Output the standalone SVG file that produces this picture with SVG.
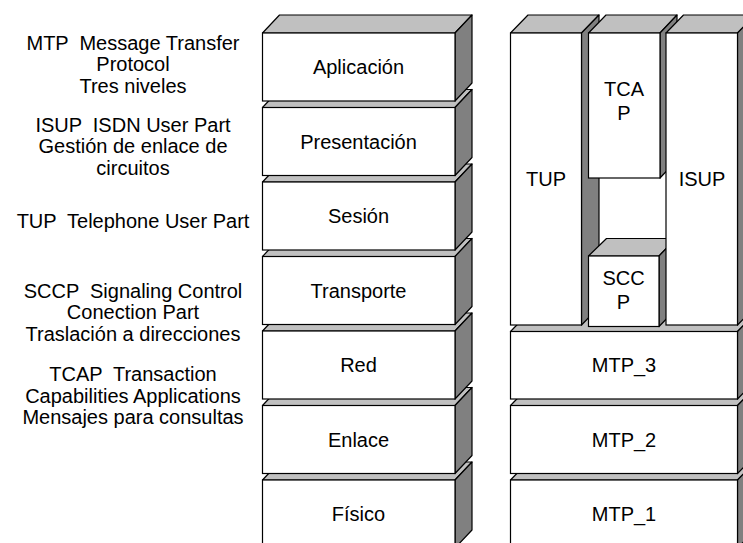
<svg xmlns="http://www.w3.org/2000/svg" width="743" height="543" viewBox="0 0 743 543">
<style>
.top{fill:#C0C0C0;stroke:#000;stroke-width:1.2;stroke-linejoin:round}
.side{fill:#808080;stroke:#000;stroke-width:1.2;stroke-linejoin:round}
.front{fill:#FFFFFF;stroke:#000;stroke-width:1.2}
text{font-family:"Liberation Sans",Arial,sans-serif;font-size:20px;fill:#000;text-anchor:middle;white-space:pre}
</style>
<rect x="0" y="0" width="743" height="543" fill="#FFFFFF"/>
<g id="legend" xml:space="preserve">
<text x="133" y="49.5">MTP  Message Transfer</text>
<text x="133" y="71">Protocol</text>
<text x="133" y="92.5">Tres niveles</text>
<text x="133" y="131.5">ISUP  ISDN User Part</text>
<text x="133" y="153">Gestión de enlace de</text>
<text x="133" y="174.5">circuitos</text>
<text x="133" y="227.5">TUP  Telephone User Part</text>
<text x="133" y="297.5">SCCP  Signaling Control</text>
<text x="133" y="319">Conection Part</text>
<text x="133" y="340.5">Traslación a direcciones</text>
<text x="133" y="381">TCAP  Transaction</text>
<text x="133" y="402.5">Capabilities Applications</text>
<text x="133" y="424">Mensajes para consultas</text>
</g>
<g id="osi">
<g id="fisico">
<polygon class="top" points="262.5,480 279.5,462 472,462 455,480"/>
<polygon class="side" points="455,480 472,462 472,530 455,548"/>
<rect class="front" x="262.5" y="480" width="192.5" height="68"/>
<text x="358.5" y="521">Físico</text>
</g>
<g id="enlace">
<polygon class="top" points="262.5,405.5 279.5,387.5 472,387.5 455,405.5"/>
<polygon class="side" points="455,405.5 472,387.5 472,455.5 455,473.5"/>
<rect class="front" x="262.5" y="405.5" width="192.5" height="68"/>
<text x="358.5" y="446.5">Enlace</text>
</g>
<g id="red">
<polygon class="top" points="262.5,331 279.5,313 472,313 455,331"/>
<polygon class="side" points="455,331 472,313 472,381 455,399"/>
<rect class="front" x="262.5" y="331" width="192.5" height="68"/>
<text x="358.5" y="372">Red</text>
</g>
<g id="transporte">
<polygon class="top" points="262.5,256.5 279.5,238.5 472,238.5 455,256.5"/>
<polygon class="side" points="455,256.5 472,238.5 472,306.5 455,324.5"/>
<rect class="front" x="262.5" y="256.5" width="192.5" height="68"/>
<text x="358.5" y="297.5">Transporte</text>
</g>
<g id="sesion">
<polygon class="top" points="262.5,182 279.5,164 472,164 455,182"/>
<polygon class="side" points="455,182 472,164 472,232 455,250"/>
<rect class="front" x="262.5" y="182" width="192.5" height="68"/>
<text x="358.5" y="223">Sesión</text>
</g>
<g id="presentacion">
<polygon class="top" points="262.5,107.5 279.5,89.5 472,89.5 455,107.5"/>
<polygon class="side" points="455,107.5 472,89.5 472,157.5 455,175.5"/>
<rect class="front" x="262.5" y="107.5" width="192.5" height="68"/>
<text x="358.5" y="148.5">Presentación</text>
</g>
<g id="aplicacion">
<polygon class="top" points="262.5,33 279.5,15 472,15 455,33"/>
<polygon class="side" points="455,33 472,15 472,83 455,101"/>
<rect class="front" x="262.5" y="33" width="192.5" height="68"/>
<text x="358.5" y="74">Aplicación</text>
</g>
</g>
<g id="ss7">
<g id="mtp1">
<polygon class="top" points="510.5,480 528,462 755,462 737.5,480"/>
<polygon class="side" points="737.5,480 755,462 755,530 737.5,548"/>
<rect class="front" x="510.5" y="480" width="227" height="68"/>
<text x="624" y="521">MTP_1</text>
</g>
<g id="mtp2">
<polygon class="top" points="510.5,405.5 528,387.5 755,387.5 737.5,405.5"/>
<polygon class="side" points="737.5,405.5 755,387.5 755,455.5 737.5,473.5"/>
<rect class="front" x="510.5" y="405.5" width="227" height="68"/>
<text x="624" y="446.5">MTP_2</text>
</g>
<g id="mtp3">
<polygon class="top" points="510.5,331.5 528,313.5 755,313.5 737.5,331.5"/>
<polygon class="side" points="737.5,331.5 755,313.5 755,381 737.5,399"/>
<rect class="front" x="510.5" y="331.5" width="227" height="67.5"/>
<text x="624" y="372">MTP_3</text>
</g>
<g id="tup">
<polygon class="top" points="510.5,33 528,15 599,15 581.5,33"/>
<polygon class="side" points="581.5,33 599,15 599,307 581.5,325"/>
<rect class="front" x="510.5" y="33" width="71" height="292"/>
<text x="546" y="186">TUP</text>
</g>
<g id="tcap">
<polygon class="top" points="588.5,33 606,15 677,15 660,33"/>
<polygon class="side" points="660,33 677,15 677,160 660,178"/>
<rect class="front" x="588.5" y="33" width="71.5" height="145"/>
<text x="624" y="95.5">TCA</text>
<text x="624" y="119.5">P</text>
</g>
<g id="sccp">
<polygon class="top" points="588.5,256 606.5,238.5 676,238.5 659,256"/>
<polygon class="side" points="659,256 676,238.5 676,309 659,326.5"/>
<rect class="front" x="588.5" y="256" width="70.5" height="70.5"/>
<text x="623.5" y="285">SCC</text>
<text x="623.5" y="308.5">P</text>
</g>
<g id="isup">
<polygon class="top" points="666,33 683.5,15 755,15 737.5,33"/>
<polygon class="side" points="737.5,33 755,15 755,307 737.5,325"/>
<rect class="front" x="666" y="33" width="71.5" height="292"/>
<text x="702" y="186">ISUP</text>
</g>
</g>
<g id="connectors"/>
</svg>
